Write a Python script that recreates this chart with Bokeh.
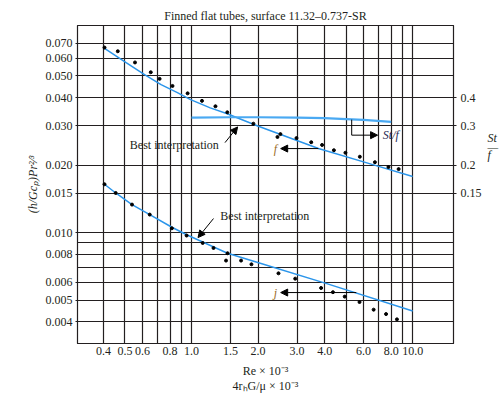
from bokeh.plotting import figure
from bokeh.models import (Range1d, LogAxis, LogScale, FixedTicker, PrintfTickFormatter,
                          Label, Arrow, NormalHead)
from bokeh.embed import file_html
from bokeh.resources import INLINE

TITLE = "Finned flat tubes, surface 11.32–0.737-SR"
FONT = "Liberation Serif"
INK = "#231f20"
BLUE = "#2b95ea"

# ---- axes / ticks ----
x_labeled = [0.4, 0.5, 0.6, 0.8, 1.0, 1.5, 2.0, 3.0, 4.0, 6.0, 8.0, 10.0]
x_grid = [0.4, 0.5, 0.6, 0.7, 0.8, 0.9, 1.0, 1.5, 2, 3, 4, 5, 6, 7, 8, 9, 10]
y_labeled = [0.004, 0.005, 0.006, 0.008, 0.010, 0.015, 0.020, 0.030, 0.040, 0.050, 0.060, 0.070]
y_grid = [0.004, 0.005, 0.006, 0.007, 0.008, 0.009, 0.010, 0.015, 0.020, 0.030, 0.040,
          0.050, 0.060, 0.070]
r_labeled = [0.15, 0.2, 0.3, 0.4]

# ---- friction factor f ----
f_re = [0.404, 0.464, 0.555, 0.654, 0.717, 0.820, 0.960, 1.115, 1.283, 1.451, 1.904, 2.447,
        2.523, 2.983, 3.478, 3.894, 4.404, 4.966, 5.77, 6.75, 7.77, 8.64]
f_val = [0.0669, 0.0644, 0.0574, 0.0519, 0.0485, 0.0451, 0.0418, 0.0387, 0.0366, 0.0344,
         0.0306, 0.0267, 0.0275, 0.0264, 0.0253, 0.0246, 0.0233, 0.0227, 0.0218, 0.0206,
         0.0196, 0.0192]
f_fit_re = [0.404, 0.508, 0.613, 0.728, 0.863, 0.99, 1.215, 1.44, 1.993, 3.75, 6.6, 10.0]
f_fit_val = [0.0663, 0.0571, 0.0507, 0.0457, 0.0421, 0.0392, 0.0360, 0.0340, 0.0299,
             0.0237, 0.0201, 0.0178]

# ---- Colburn j ----
j_re = [0.404, 0.454, 0.538, 0.647, 0.815, 0.950, 1.123, 1.257, 1.455, 1.432, 1.675, 1.866,
        2.473, 2.943, 3.854, 4.36, 4.93, 5.75, 6.66, 7.58, 8.49]
j_val = [0.01643, 0.01502, 0.01333, 0.01203, 0.01045, 0.00970, 0.00899, 0.00854, 0.00809,
         0.0075, 0.0075, 0.00722, 0.00658, 0.00623, 0.00566, 0.00542, 0.00518, 0.0049,
         0.00453, 0.00433, 0.0041]
j_fit_re = [0.404, 0.454, 0.538, 0.647, 0.815, 0.950, 1.455, 1.993, 4.087, 10.0]
j_fit_val = [0.01643, 0.01502, 0.01333, 0.01203, 0.01056, 0.00978, 0.00809, 0.00735,
             0.00592, 0.00447]

# ---- St/f ----
stf_re = [1.0, 1.5, 2.0, 3.0, 4.0, 5.0, 6.0, 8.0]
stf_val = [0.326, 0.327, 0.327, 0.326, 0.324, 0.321, 0.318, 0.312]

p = figure(width=501, height=396, output_backend="svg", toolbar_location=None,
           x_axis_type="log", y_axis_type="log",
           x_range=Range1d(0.305, 15.3), y_range=Range1d(0.0032, 0.0839),
           min_border_left=77, min_border_right=42, min_border_top=25, min_border_bottom=53,
           title=TITLE)
p.extra_y_ranges = {"r": Range1d(0.032, 0.839)}
p.extra_y_scales = {"r": LogScale()}

p.title.text_font = FONT
p.title.text_font_size = "12px"
p.title.text_font_style = "normal"
p.title.align = "center"
p.title.text_color = INK
p.title.standoff = 6

p.outline_line_color = INK
p.outline_line_width = 1.2
p.outline_line_alpha = 1
p.background_fill_color = "white"
p.border_fill_color = "white"

p.xgrid.ticker = FixedTicker(ticks=x_grid, minor_ticks=[])
p.ygrid.ticker = FixedTicker(ticks=y_grid, minor_ticks=[])
for g in (p.xgrid, p.ygrid):
    g.grid_line_color = INK
    g.grid_line_width = 1.2
    g.grid_line_alpha = 1

xa = p.xaxis[0]
xa.ticker = FixedTicker(ticks=x_labeled, minor_ticks=[])
xa.formatter = PrintfTickFormatter(format="%.1f")
xa.axis_label = "Re × 10⁻³\n4rₕG/μ × 10⁻³"
xa.major_tick_out = 0
xa.major_tick_in = 0
xa.major_label_standoff = 3
xa.axis_label_standoff = 6

ya = p.yaxis[0]
ya.ticker = FixedTicker(ticks=y_labeled, minor_ticks=[])
ya.formatter = PrintfTickFormatter(format="%.3f")
ya.axis_label = "(h/Gcₚ)Pr²⁄³"
ya.axis_label_text_font_style = "italic"
ya.major_tick_out = 2
ya.major_tick_in = 0
ya.major_label_standoff = 3
ya.axis_label_standoff = 3

ra = LogAxis(y_range_name="r", ticker=FixedTicker(ticks=r_labeled, minor_ticks=[]),
             formatter=PrintfTickFormatter(format="%g"))
ra.major_tick_out = 3
ra.major_tick_in = 0
ra.major_label_standoff = 4
# fraction St/f as the right-axis title (trailing blank lines lift it above centre)
ra.axis_label = "St\n—\nf\n\n\n\n\n\n\n\n\n"
ra.axis_label_orientation = "horizontal"
ra.axis_label_text_align = "center"
ra.axis_label_text_line_height = 0.6
ra.axis_label_standoff = 3
p.add_layout(ra, "right")

for ax in (xa, ya, ra):
    ax.axis_line_color = INK
    ax.major_tick_line_color = INK
    ax.minor_tick_line_color = None
    ax.major_label_text_font = FONT
    ax.major_label_text_font_size = "12px"
    ax.major_label_text_color = INK
    ax.axis_label_text_font = FONT
    ax.axis_label_text_font_size = "12px"
    ax.axis_label_text_color = INK
xa.axis_label_text_font_style = "normal"
xa.axis_label_text_line_height = 1.1
ra.axis_label_text_font_style = "italic"

# curves
p.line(f_fit_re, f_fit_val, line_color=BLUE, line_width=1.5)
p.line(j_fit_re, j_fit_val, line_color=BLUE, line_width=1.5)
p.line(stf_re, stf_val, y_range_name="r", line_color="#4aa9f2", line_width=2.2)

# data points
p.scatter(f_re, f_val, size=3, color="black")
p.scatter(j_re, j_val, size=3, color="black")

def txt(x, y, s, align="left", style="normal", color=INK):
    p.add_layout(Label(x=x, y=y, text=s, text_font=FONT,
                       text_font_size="12px", text_align=align, text_baseline="middle",
                       text_font_style=style, text_color=color))

def arrow(x0, y0, x1, y1, head=True):
    p.add_layout(Arrow(x_start=x0, y_start=y0, x_end=x1, y_end=y1,
                       line_color="black", line_width=1,
                       end=NormalHead(size=7, fill_color="black", line_color="black") if head else None))

# Best interpretation (upper)
txt(0.526, 0.0245, "Best interpretation")
arrow(1.417, 0.0252, 1.616, 0.0296)
# Best interpretation (lower)
txt(1.35, 0.01182, "Best interpretation")
arrow(1.257, 0.01155, 1.070, 0.0095)
# f label
arrow(3.75, 0.0237, 2.53, 0.0237)
txt(2.44, 0.0237, "f", align="right", style="italic", color="#9a6a1e")
# j label
arrow(5.56, 0.0054, 2.53, 0.0054)
txt(2.44, 0.0054, "j", align="right", style="italic", color="#9a6a1e")
# St/f bracket
arrow(5.30, 0.0319, 5.30, 0.0272, head=False)
arrow(5.30, 0.0272, 6.94, 0.0272)
txt(7.33, 0.0272, "St/f", style="italic", color="#2a2a55")

open("out.html", "w").write(file_html(p, INLINE))
